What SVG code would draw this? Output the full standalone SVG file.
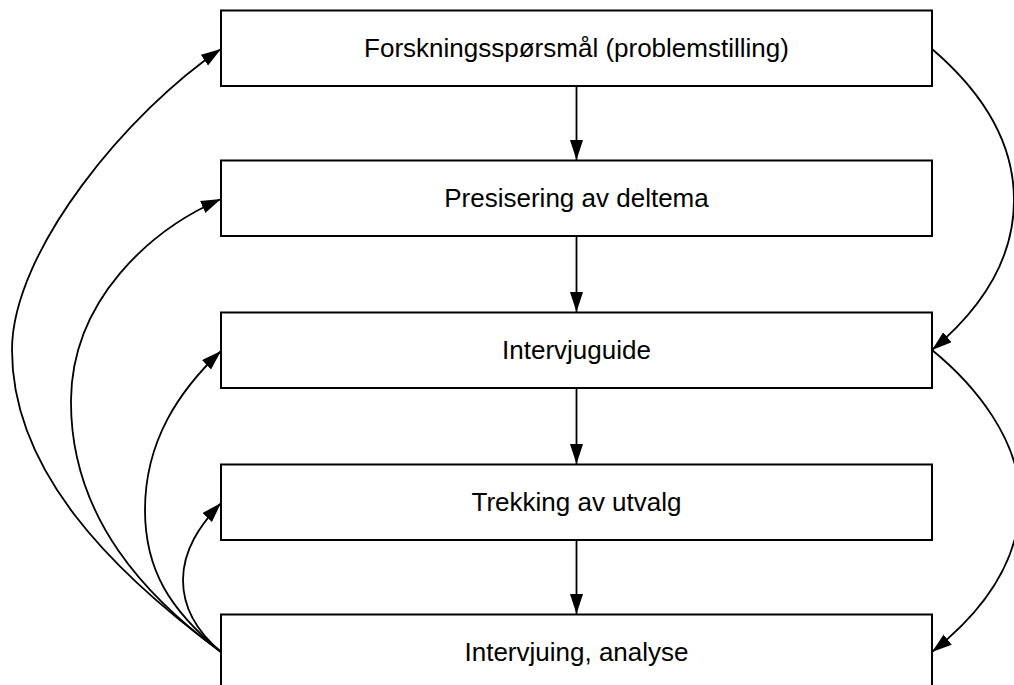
<svg xmlns="http://www.w3.org/2000/svg" width="1014" height="685" viewBox="0 0 1014 685">
<style>
.box{fill:#fff;stroke:#000;stroke-width:2}
.lbl{font-family:"Liberation Sans",Arial,sans-serif;font-size:26px;fill:#000;text-anchor:middle}
.edge{fill:none;stroke:#000;stroke-width:1.8;marker-end:url(#ah)}
</style>
<defs>
<marker id="ah" markerUnits="userSpaceOnUse" markerWidth="22" markerHeight="14" refX="20" refY="6.5" orient="auto">
<path d="M0,0 L20,6.5 L0,13 z" fill="#000"/>
</marker>
</defs>
<rect width="1014" height="685" fill="#fff"/>
<g id="edges">
<path class="edge" d="M576.5,86 L576.5,160"/>
<path class="edge" d="M576.5,236 L576.5,312"/>
<path class="edge" d="M576.5,388 L576.5,464"/>
<path class="edge" d="M576.5,540 L576.5,614"/>
<path class="edge" d="M221,652 C110,570 12,470 12,350 C12,250 130,110 221,49"/>
<path class="edge" d="M221,652 C150,600 70,520 71,400 C72,300 150,230 221,199"/>
<path class="edge" d="M221,652 C170,610 145,570 145,510 C145,440 180,390 221,351"/>
<path class="edge" d="M221,652 C195,630 183,605 183,580 C183,550 200,525 221,503"/>
<path class="edge" d="M932,49 C980,90 1014,140 1014,200 C1014,260 980,310 932,350"/>
<path class="edge" d="M932,350 C975,385 1020,440 1020,500 C1020,560 985,610 932,652"/>
</g>
<g id="n1"><rect class="box" x="221" y="10.5" width="711" height="75.5"/><text class="lbl" x="576.5" y="57">Forskningsspørsmål (problemstilling)</text></g>
<g id="n2"><rect class="box" x="221" y="160.5" width="711" height="75.5"/><text class="lbl" x="576.5" y="207">Presisering av deltema</text></g>
<g id="n3"><rect class="box" x="221" y="312.5" width="711" height="75.5"/><text class="lbl" x="576.5" y="359">Intervjuguide</text></g>
<g id="n4"><rect class="box" x="221" y="464.5" width="711" height="75.5"/><text class="lbl" x="576.5" y="511">Trekking av utvalg</text></g>
<g id="n5"><rect class="box" x="221" y="614.5" width="711" height="75.5"/><text class="lbl" x="576.5" y="661">Intervjuing, analyse</text></g>
</svg>
